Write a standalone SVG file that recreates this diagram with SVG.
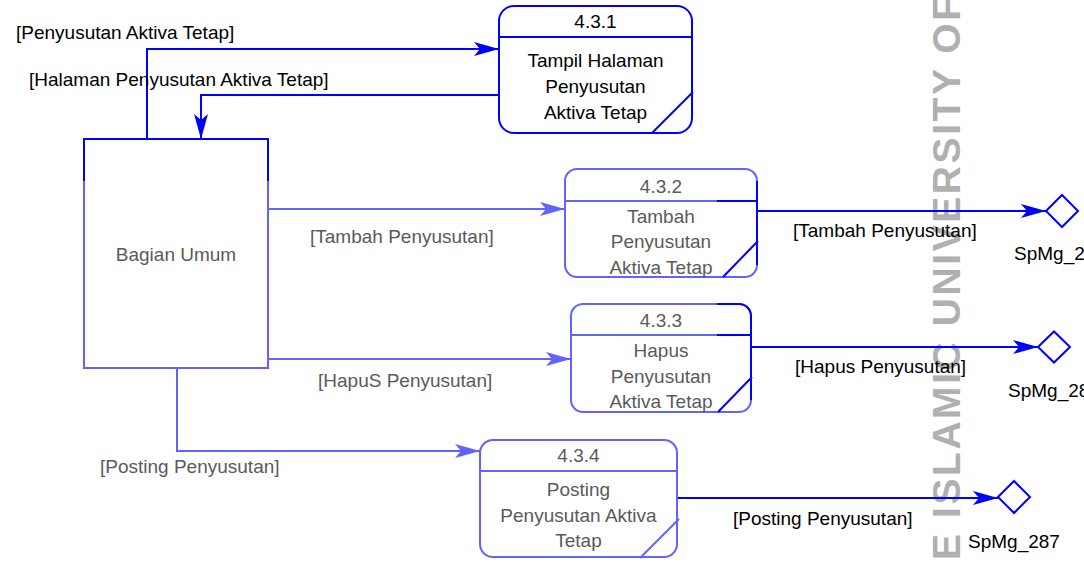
<svg xmlns="http://www.w3.org/2000/svg" width="1084" height="563" viewBox="0 0 1084 563">
<style>
text{font-family:"Liberation Sans",Arial,sans-serif;font-size:19px;}
.lbl{fill:#000;}
.glbl{fill:#5a5a5a;}
.mid{text-anchor:middle;}
.b{fill:none;stroke:#0000ff;stroke-width:2;}
.l{fill:none;stroke:#6262ff;stroke-width:2;}
.box{fill:#fff;stroke:#0000ff;stroke-width:2;}
.lbox{fill:#fff;stroke:#6262ff;stroke-width:2;}
.dia{fill:#fff;stroke:#0000ff;stroke-width:2;}
.wm{font-family:"Liberation Sans",Arial,sans-serif;font-size:39px;font-weight:bold;fill:#b0b0b0;}
</style>
<defs>
<marker id="ab" viewBox="-26 -8 28 16" markerWidth="28" markerHeight="16" refX="0" refY="0" orient="auto" markerUnits="userSpaceOnUse">
<path d="M0,0 L-25,-7 L-19,0 L-25,7 Z" fill="#0000ff"/>
</marker>
<marker id="al" viewBox="-26 -8 28 16" markerWidth="28" markerHeight="16" refX="0" refY="0" orient="auto" markerUnits="userSpaceOnUse">
<path d="M0,0 L-25,-7 L-19,0 L-25,7 Z" fill="#6262ff"/>
</marker>
</defs>
<rect x="0" y="0" width="1084" height="563" fill="#fff"/>
<text class="wm" transform="translate(960,560) rotate(-90)" x="0" y="0" textLength="563" lengthAdjust="spacing">E ISLAMIC UNIVERSITY OF</text>

<g id="connectors">
<path class="b" d="M147,139 V49 H499" marker-end="url(#ab)"/>
<path class="b" d="M499,95 H201 V139" marker-end="url(#ab)"/>
<path class="l" d="M268,209 H565" marker-end="url(#al)"/>
<path class="l" d="M268,359 H571" marker-end="url(#al)"/>
<path class="l" d="M177,368 V451 H480" marker-end="url(#al)"/>
<path class="b" d="M757,211 H1046" marker-end="url(#ab)"/>
<path class="b" d="M751,347 H1038" marker-end="url(#ab)"/>
<path class="b" d="M677,498 H998" marker-end="url(#ab)"/>
<text class="lbl" x="16" y="39">[Penyusutan Aktiva Tetap]</text>
<text class="lbl" x="29" y="86">[Halaman Penyusutan Aktiva Tetap]</text>
<text class="glbl" x="310" y="243">[Tambah Penyusutan]</text>
<text class="glbl" x="318" y="387">[HapuS Penyusutan]</text>
<text class="glbl" x="100" y="473">[Posting Penyusutan]</text>
<text class="lbl" x="793" y="237">[Tambah Penyusutan]</text>
<text class="lbl" x="795" y="373">[Hapus Penyusutan]</text>
<text class="lbl" x="733" y="525">[Posting Penyusutan]</text>
</g>

<g id="bagian-umum">
<rect class="lbox" x="84" y="139" width="184" height="229"/>
<path class="b" d="M84,181 V139 H268 V181"/>
<text class="glbl mid" x="176" y="261">Bagian Umum</text>
</g>

<g id="p431">
<rect class="box" x="499" y="6" width="193" height="127" rx="15" ry="15"/>
<line class="b" x1="499" y1="37" x2="692" y2="37"/>
<line class="b" x1="693" y1="92" x2="652" y2="133"/>
<text class="lbl mid" x="595.5" y="28">4.3.1</text>
<text class="lbl mid" x="595.5" y="67">Tampil Halaman</text>
<text class="lbl mid" x="595.5" y="93">Penyusutan</text>
<text class="lbl mid" x="595.5" y="119">Aktiva Tetap</text>
</g>

<g id="p432">
<rect class="lbox" x="565" y="169" width="192" height="108" rx="12" ry="12"/>
<line class="l" x1="565" y1="201" x2="717" y2="201"/>
<line class="b" x1="717" y1="201" x2="757" y2="201"/>
<path class="b" d="M757,181 V265"/>
<line class="b" x1="758" y1="241" x2="723" y2="277"/>
<text class="glbl mid" x="661" y="193">4.3.2</text>
<text class="glbl mid" x="661" y="222.5">Tambah</text>
<text class="glbl mid" x="661" y="248">Penyusutan</text>
<text class="glbl mid" x="661" y="273.5">Aktiva Tetap</text>
</g>

<g id="p433">
<rect class="lbox" x="571" y="304" width="180" height="108" rx="12" ry="12"/>
<line class="l" x1="571" y1="335" x2="717" y2="335"/>
<line class="b" x1="717" y1="335" x2="751" y2="335"/>
<path class="b" d="M717,304 H739 A12,12 0 0 1 751,316 V400"/>
<line class="b" x1="752" y1="377" x2="718" y2="412"/>
<text class="glbl mid" x="661" y="327">4.3.3</text>
<text class="glbl mid" x="661" y="357">Hapus</text>
<text class="glbl mid" x="661" y="383">Penyusutan</text>
<text class="glbl mid" x="661" y="408">Aktiva Tetap</text>
</g>

<g id="p434">
<rect class="lbox" x="480" y="440" width="197" height="117" rx="13" ry="13"/>
<line class="l" x1="480" y1="471" x2="677" y2="471"/>
<line class="l" x1="679" y1="519" x2="640" y2="558"/>
<text class="glbl mid" x="578.5" y="462">4.3.4</text>
<text class="glbl mid" x="578.5" y="496">Posting</text>
<text class="glbl mid" x="578.5" y="522">Penyusutan Aktiva</text>
<text class="glbl mid" x="578.5" y="547">Tetap</text>
</g>

<g id="spmg285">
<polygon class="dia" points="1046,211 1062,195 1078,211 1062,227"/>
<text class="lbl" x="1014" y="260">SpMg_285</text>
</g>
<g id="spmg286">
<polygon class="dia" points="1038,347 1054,331.5 1070,347 1054,362.5"/>
<text class="lbl" x="1008" y="397">SpMg_286</text>
</g>
<g id="spmg287">
<polygon class="dia" points="998,497 1014,481 1030,497 1014,513"/>
<text class="lbl" x="968" y="548">SpMg_287</text>
</g>
</svg>
